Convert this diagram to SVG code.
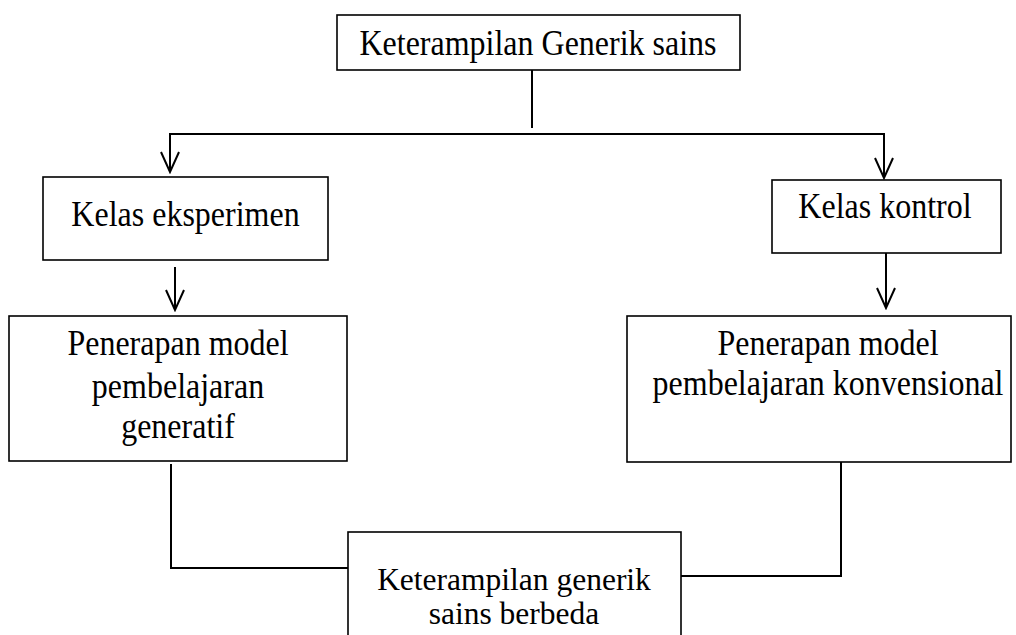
<svg xmlns="http://www.w3.org/2000/svg" width="1016" height="635" viewBox="0 0 1016 635">
<style>
.box{fill:#fff;stroke:#000;stroke-width:1.6}
.ln{fill:none;stroke:#000;stroke-width:2}
.t{font-family:"Liberation Serif","Times New Roman",serif;font-size:32px;fill:#000;text-anchor:middle}
</style>
<defs>
<marker id="arr" viewBox="0 0 24 24" markerWidth="24" markerHeight="24" refX="22" refY="12" orient="auto" markerUnits="userSpaceOnUse">
<path d="M2,3 L22,12 L2,21" fill="none" stroke="#000" stroke-width="2"/>
</marker>
</defs>
<rect width="1016" height="635" fill="#fff"/>
<g id="connectors">
<line class="ln" x1="532" y1="70" x2="532" y2="128"/>
<line class="ln" x1="169" y1="134" x2="885" y2="134"/>
<line class="ln" x1="170" y1="134" x2="170" y2="172" marker-end="url(#arr)"/>
<line class="ln" x1="884" y1="134" x2="884" y2="178" marker-end="url(#arr)"/>
<line class="ln" x1="175" y1="267" x2="175" y2="310" marker-end="url(#arr)"/>
<line class="ln" x1="886" y1="253" x2="886" y2="308" marker-end="url(#arr)"/>
<polyline class="ln" points="171,464 171,568 348,568"/>
<polyline class="ln" points="841,462 841,576 681,576"/>
</g>
<g id="n-top">
<rect class="box" x="337" y="15" width="403" height="55"/>
<text class="t" transform="translate(538,55) scale(1,1.1)">Keterampilan Generik sains</text>
</g>
<g id="n-eksperimen">
<rect class="box" x="43" y="177" width="285" height="83"/>
<text class="t" transform="translate(185.5,226) scale(1,1.12)">Kelas eksperimen</text>
</g>
<g id="n-kontrol">
<rect class="box" x="772" y="180" width="229" height="73"/>
<text class="t" transform="translate(885,218) scale(1,1.12)">Kelas kontrol</text>
</g>
<g id="n-generatif">
<rect class="box" x="9" y="316" width="338" height="145"/>
<text class="t" transform="translate(178,355) scale(1,1.12)"><tspan x="0" y="0">Penerapan model</tspan><tspan x="0" y="38">pembelajaran</tspan><tspan x="0" y="74">generatif</tspan></text>
</g>
<g id="n-konvensional">
<rect class="box" x="627" y="316" width="384" height="146"/>
<text class="t" transform="translate(828,355) scale(1,1.12)"><tspan x="0" y="0">Penerapan model</tspan><tspan x="0" y="36">pembelajaran konvensional</tspan></text>
</g>
<g id="n-berbeda">
<rect class="box" x="348" y="532" width="333" height="120"/>
<text class="t" style="font-size:31.5px" x="514" y="590">Keterampilan generik</text>
<text class="t" style="font-size:31.5px" x="514" y="624">sains berbeda</text>
</g>
</svg>
